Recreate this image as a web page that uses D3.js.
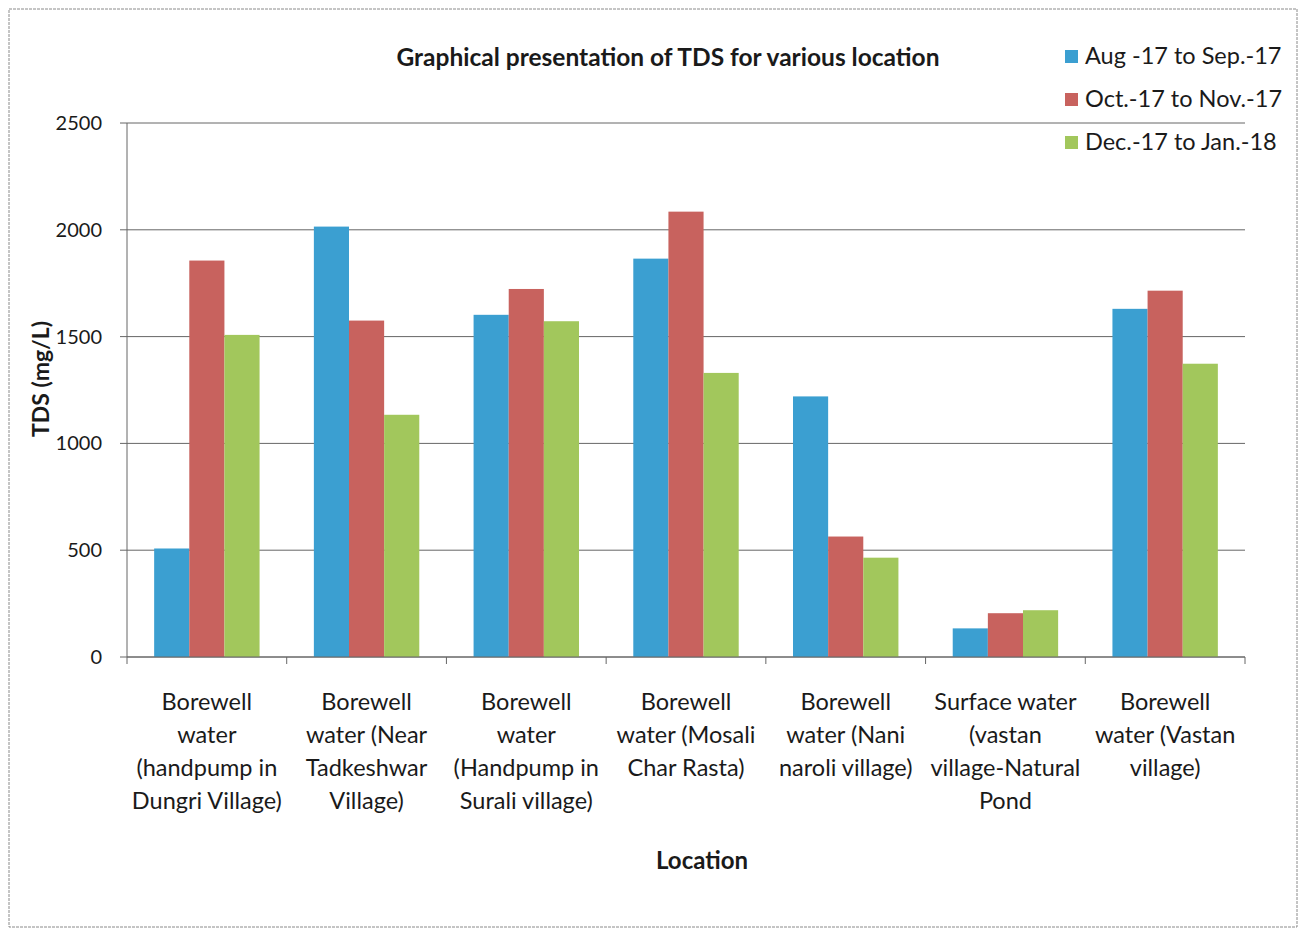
<!DOCTYPE html>
<html>
<head>
<meta charset="utf-8">
<script src="https://cdn.jsdelivr.net/npm/d3@7"></script>
<style>
  body { margin: 0; background: #fff; }
  text { font-family: Lato, "Open Sans", sans-serif; fill: #1a1a1a; }
</style>
</head>
<body>
<div id="chart"></div>
<script>
// data
const locations = [
    ["Borewell", "water", "(handpump in", "Dungri Village)"],
    ["Borewell", "water (Near", "Tadkeshwar", "Village)"],
    ["Borewell", "water", "(Handpump in", "Surali village)"],
    ["Borewell", "water (Mosali", "Char Rasta)"],
    ["Borewell", "water (Nani", "naroli village)"],
    ["Surface water", "(vastan", "village-Natural", "Pond"],
    ["Borewell", "water (Vastan", "village)"]
];
const seriesNames = ["Aug -17 to Sep.-17", "Oct.-17 to Nov.-17", "Dec.-17 to Jan.-18"];
const augSep = [508, 2015, 1602, 1865, 1220, 134, 1630];
const octNov = [1856, 1575, 1723, 2085, 564, 205, 1715];
const decJan = [1508, 1134, 1572, 1330, 465, 219, 1373];
const yTicks = [0, 500, 1000, 1500, 2000, 2500];
const colors = ["#3b9fd1", "#c8625e", "#a2c75c"];

const W = 1300, H = 928;
const margin = { top: 123, right: 55, bottom: 271, left: 127 },
    width = W - margin.left - margin.right,
    height = H - margin.top - margin.bottom;

const svgRoot = d3.select("#chart").append("svg")
    .attr("width", W)
    .attr("height", H);

// outer frame
svgRoot.append("rect")
    .attr("x", 9).attr("y", 9)
    .attr("width", W - 12).attr("height", H - 10)
    .attr("fill", "none")
    .attr("stroke", "#8a8a8a")
    .attr("stroke-width", 1)
    .attr("stroke-dasharray", "3,1");

let svg = svgRoot.append("g")
    .attr("transform", "translate(" + margin.left + "," + margin.top + ")");

const x0 = d3.scaleBand()
    .domain(d3.range(locations.length))
    .range([0, width])
    .paddingInner(0.34)
    .paddingOuter(0.17);

const x1 = d3.scaleBand()
    .domain(d3.range(seriesNames.length))
    .range([0, x0.bandwidth()]);

const y = d3.scaleLinear()
    .domain([0, 2500])
    .range([height, 0]);

// gridlines
svg.append("g")
    .selectAll("line")
    .data(yTicks)
    .enter().append("line")
    .attr("x1", -7)
    .attr("x2", width)
    .attr("y1", d => y(d))
    .attr("y2", d => y(d))
    .style("stroke", "#666")
    .style("stroke-width", 1);

// y axis line
svg.append("line")
    .attr("x1", 0).attr("x2", 0)
    .attr("y1", 0).attr("y2", height)
    .style("stroke", "#666");

// y tick labels
svg.append("g")
    .selectAll("text")
    .data(yTicks)
    .enter().append("text")
    .attr("x", -25)
    .attr("y", d => y(d))
    .attr("dy", "0.35em")
    .attr("text-anchor", "end")
    .style("font-size", "20px")
    .text(d => d);

// bars
const allSeries = [augSep, octNov, decJan];
const groups = svg.selectAll(".grp")
    .data(locations)
    .enter().append("g")
    .attr("class", "grp")
    .attr("transform", (d, i) => "translate(" + x0(i) + ",0)");

groups.selectAll("rect")
    .data((d, i) => allSeries.map((s, k) => ({ k: k, v: s[i] })))
    .enter().append("rect")
    .attr("x", d => x1(d.k))
    .attr("y", d => y(d.v))
    .attr("width", x1.bandwidth())
    .attr("height", d => height - y(d.v))
    .style("fill", d => colors[d.k]);

// x axis + category ticks
const step = width / locations.length;
svg.append("line")
    .attr("x1", 0).attr("x2", width)
    .attr("y1", height).attr("y2", height)
    .style("stroke", "#666");

svg.append("g")
    .selectAll("line")
    .data(d3.range(locations.length + 1))
    .enter().append("line")
    .attr("x1", d => d * step)
    .attr("x2", d => d * step)
    .attr("y1", height)
    .attr("y2", height + 7)
    .style("stroke", "#666");

// category labels
const labels = svg.append("g")
    .selectAll("text")
    .data(locations)
    .enter().append("text")
    .attr("text-anchor", "middle")
    .attr("transform", (d, i) => "translate(" + (x0(i) + x0.bandwidth() / 2) + "," + (height + 53) + ")")
    .style("font-size", "23.5px");

labels.selectAll("tspan")
    .data(d => d)
    .enter().append("tspan")
    .attr("x", 0)
    .attr("y", (d, i) => i * 33)
    .text(d => d);

// axis titles
svg.append("text")
    .attr("x", width / 2 + 16)
    .attr("y", height + 212)
    .attr("text-anchor", "middle")
    .style("font-size", "24px")
    .style("font-weight", "bold")
    .text("Location");

svg.append("text")
    .attr("transform", "translate(" + (-78) + "," + (379 - margin.top) + ") rotate(-90)")
    .attr("text-anchor", "middle")
    .style("font-size", "23px")
    .style("font-weight", "bold")
    .text("TDS (mg/L)");

// title
svgRoot.append("text")
    .attr("x", 668)
    .attr("y", 66)
    .attr("text-anchor", "middle")
    .style("font-size", "24.5px")
    .style("font-weight", "bold")
    .text("Graphical presentation of TDS for various location");

// legend
const legend = svgRoot.append("g")
    .selectAll("g")
    .data(seriesNames)
    .enter().append("g")
    .attr("transform", (d, i) => "translate(1065," + (56 + i * 43) + ")");

legend.append("rect")
    .attr("x", 0).attr("y", -6)
    .attr("width", 13).attr("height", 13)
    .style("fill", (d, i) => colors[i]);

legend.append("text")
    .attr("x", 20)
    .attr("dy", "0.35em")
    .style("font-size", "23.5px")
    .text(d => d);
</script>
</body>
</html>
